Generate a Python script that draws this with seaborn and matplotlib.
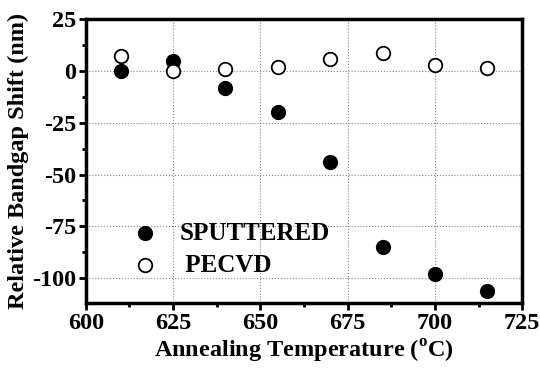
import matplotlib
matplotlib.use("Agg")
import matplotlib.pyplot as plt
import seaborn as sns
import pandas as pd
from matplotlib.ticker import MultipleLocator

temperature = [610, 625, 640, 655, 670, 685, 700, 715]
sputtered = [0, 5, -8, -20, -44, -85, -98, -106]
pecvd = [7, 0, 1, 2, 5.6, 8.8, 2.7, 1.3]

sns.set_theme(style="white")
plt.rcParams['font.family'] = ['Liberation Serif', 'DejaVu Serif']
plt.rcParams['font.weight'] = 'bold'
plt.rcParams['axes.unicode_minus'] = False
plt.rcParams['text.color'] = 'black'
plt.rcParams['axes.labelcolor'] = 'black'
plt.rcParams['xtick.color'] = 'black'
plt.rcParams['ytick.color'] = 'black'
plt.rcParams['mathtext.fontset'] = 'custom'
plt.rcParams['mathtext.rm'] = 'Liberation Serif:bold'
plt.rcParams['mathtext.bf'] = 'Liberation Serif:bold'

df = pd.DataFrame({"T": temperature, "SPUTTERED": sputtered, "PECVD": pecvd})

fig = plt.figure(figsize=(5.4, 3.69), dpi=100)
ax = fig.add_axes([0.159, 0.179, 0.808, 0.769])

sns.scatterplot(data=df, x="T", y="SPUTTERED", ax=ax, s=95, color="black",
                edgecolor="black", linewidth=1.2, label="SPUTTERED", zorder=3)
sns.scatterplot(data=df, x="T", y="PECVD", ax=ax, s=95, facecolor="white",
                edgecolor="black", linewidth=1.3, label=" PECVD", zorder=3)

ax.set_xlim(600, 725)
ax.set_ylim(-112, 25)
ax.xaxis.set_major_locator(MultipleLocator(25))
ax.xaxis.set_minor_locator(MultipleLocator(12.5))
ax.yaxis.set_major_locator(MultipleLocator(25))
ax.yaxis.set_minor_locator(MultipleLocator(12.5))
ax.grid(True, which="major", color="#888888", linestyle=":", linewidth=0.8)
ax.set_axisbelow(True)

for sp in ax.spines.values():
    sp.set_linewidth(2.5)
    sp.set_color("black")

ax.tick_params(axis="both", which="major", direction="out", length=5, width=2,
               labelsize=17.5, color="black", bottom=True, left=True, pad=2)
ax.tick_params(axis="both", which="minor", direction="out", length=3, width=2,
               color="black", bottom=True, left=True)
for lab in ax.get_xticklabels() + ax.get_yticklabels():
    lab.set_fontweight("bold")

ax.set_xlabel("Annealing Temperature ($^{\\mathrm{o}}$C)", fontsize=17.5, fontweight="bold", labelpad=3)
ax.set_ylabel("Relative Bandgap Shift (nm)", fontsize=17.5, fontweight="bold", labelpad=2)

leg = ax.legend(loc="lower left", bbox_to_anchor=(0.026, 0.013), frameon=False,
                prop={"size": 18, "weight": "bold"}, handletextpad=0.38,
                labelspacing=0.35, markerscale=1.0)

fig.savefig("out.png", dpi=100)
